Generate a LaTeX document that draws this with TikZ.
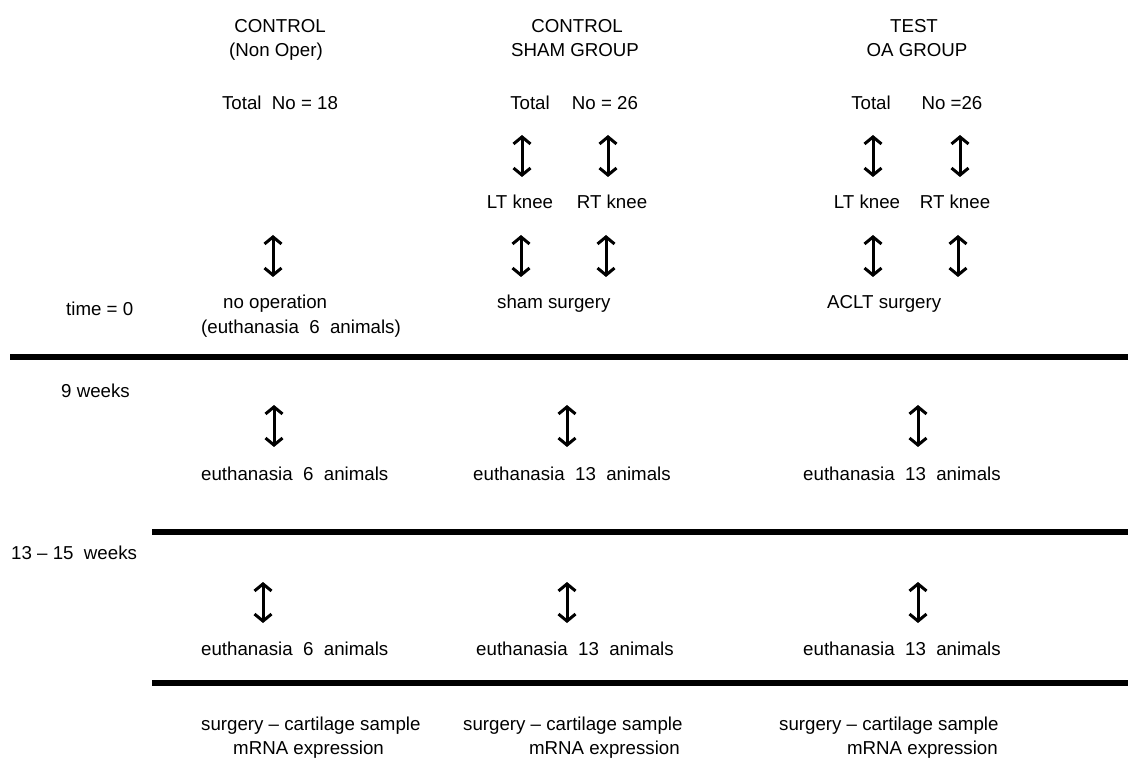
\documentclass[tikz,border=0pt]{standalone}
\usepackage{fontspec}
\setmainfont{Liberation Sans}
\usetikzlibrary{positioning,arrows.meta}
\tikzset{Label/.style={%
    inner sep=0pt,%
    anchor=base,%
    font=\fontsize{18.7}{22}\selectfont,%
}}
\tikzset{LeftLabel/.style={%
    Label,%
    anchor=base west,%
}}
\tikzset{RightLabel/.style={%
    Label,%
    anchor=base east,%
}}
\tikzset{UpDown/.style={%
    {Straight Barb[length=7pt,width=17pt]}-{Straight Barb[length=7pt,width=17pt]},%
    line width=3pt,%
}}
\tikzset{TimeRule/.style={%
    line width=5.5pt,%
}}

\begin{document}
\begin{tikzpicture}[x=1pt,y=-1pt]
    \useasboundingbox (0,0) rectangle (1128,783);

    % time axis labels
    \node[LeftLabel] (t0) at (66,316) {time = 0};
    \node[LeftLabel] (t9) at (61,398) {9 weeks};
    \node[LeftLabel] (t15) at (11,559) {13 – 15\ \ weeks};

    % control, non operated
    \node[Label] (ctlHead) at (280,33) {CONTROL};
    \node[Label] (ctlSub) at (276,57) {(Non Oper)};
    \node[Label] (ctlTotal) at (280,110) {Total\ \ No = 18};
    \node[LeftLabel] (ctlOp) at (223,309) {no operation};
    \node[LeftLabel] (ctlEuth0) at (201,334) {(euthanasia\ \ 6\ \ animals)};
    \node[LeftLabel] (ctlEuth9) at (201,481) {euthanasia\ \ 6\ \ animals};
    \node[LeftLabel] (ctlEuth15) at (201,655) {euthanasia\ \ 6\ \ animals};
    \node[LeftLabel] (ctlSurg) at (201,730) {surgery – cartilage sample};
    \node[LeftLabel] (ctlRna) at (233,754) {mRNA expression};

    % control, sham group
    \node[Label] (shamHead) at (577,33) {CONTROL};
    \node[Label] (shamSub) at (575,57) {SHAM GROUP};
    \node[Label] (shamTotal) at (530,110) {Total};
    \node[Label] (shamNo) at (605,110) {No = 26};
    \node[Label] (shamLT) at (520,209) {LT knee};
    \node[Label] (shamRT) at (612,209) {RT knee};
    \node[LeftLabel] (shamOp) at (497,309) {sham surgery};
    \node[Label] (shamEuth9) at (572,481) {euthanasia\ \ 13\ \ animals};
    \node[Label] (shamEuth15) at (575,655) {euthanasia\ \ 13\ \ animals};
    \node[LeftLabel] (shamSurg) at (463,730) {surgery – cartilage sample};
    \node[RightLabel] (shamRna) at (680,754) {mRNA expression};

    % test, OA group
    \node[Label] (oaHead) at (914,33) {TEST};
    \node[Label] (oaSub) at (917,57) {OA GROUP};
    \node[Label] (oaTotal) at (871,110) {Total};
    \node[Label] (oaNo) at (952,110) {No =26};
    \node[Label] (oaLT) at (867,209) {LT knee};
    \node[Label] (oaRT) at (955,209) {RT knee};
    \node[LeftLabel] (oaOp) at (827,309) {ACLT surgery};
    \node[Label] (oaEuth9) at (902,481) {euthanasia\ \ 13\ \ animals};
    \node[Label] (oaEuth15) at (902,655) {euthanasia\ \ 13\ \ animals};
    \node[LeftLabel] (oaSurg) at (779,730) {surgery – cartilage sample};
    \node[RightLabel] (oaRna) at (998,754) {mRNA expression};

    % arrow ends
    \coordinate (shamA1) at (522,135); \coordinate (shamA2) at (522,177);
    \coordinate (shamB1) at (608,135); \coordinate (shamB2) at (608,177);
    \coordinate (oaA1) at (873,135);   \coordinate (oaA2) at (873,177);
    \coordinate (oaB1) at (960,135);   \coordinate (oaB2) at (960,177);
    \coordinate (ctlC1) at (273,235);  \coordinate (ctlC2) at (273,277);
    \coordinate (shamC1) at (521,235); \coordinate (shamC2) at (521,277);
    \coordinate (shamD1) at (606,235); \coordinate (shamD2) at (606,277);
    \coordinate (oaC1) at (873,235);   \coordinate (oaC2) at (873,277);
    \coordinate (oaD1) at (958,235);   \coordinate (oaD2) at (958,277);
    \coordinate (ctlE1) at (274,405);  \coordinate (ctlE2) at (274,447);
    \coordinate (shamE1) at (567,405); \coordinate (shamE2) at (567,447);
    \coordinate (oaE1) at (918,405);   \coordinate (oaE2) at (918,447);
    \coordinate (ctlF1) at (263,582);  \coordinate (ctlF2) at (263,623);
    \coordinate (shamF1) at (567,582); \coordinate (shamF2) at (567,623);
    \coordinate (oaF1) at (918,582);   \coordinate (oaF2) at (918,623);

    \draw[UpDown] (shamA1) -- (shamA2);
    \draw[UpDown] (shamB1) -- (shamB2);
    \draw[UpDown] (oaA1) -- (oaA2);
    \draw[UpDown] (oaB1) -- (oaB2);
    \draw[UpDown] (ctlC1) -- (ctlC2);
    \draw[UpDown] (shamC1) -- (shamC2);
    \draw[UpDown] (shamD1) -- (shamD2);
    \draw[UpDown] (oaC1) -- (oaC2);
    \draw[UpDown] (oaD1) -- (oaD2);
    \draw[UpDown] (ctlE1) -- (ctlE2);
    \draw[UpDown] (shamE1) -- (shamE2);
    \draw[UpDown] (oaE1) -- (oaE2);
    \draw[UpDown] (ctlF1) -- (ctlF2);
    \draw[UpDown] (shamF1) -- (shamF2);
    \draw[UpDown] (oaF1) -- (oaF2);

    % time rules
    \coordinate (rule0L) at (10,357);  \coordinate (rule0R) at (1128,357);
    \coordinate (rule9L) at (152,532); \coordinate (rule9R) at (1128,532);
    \coordinate (rule15L) at (152,683); \coordinate (rule15R) at (1128,683);
    \draw[TimeRule] (rule0L) -- (rule0R);
    \draw[TimeRule] (rule9L) -- (rule9R);
    \draw[TimeRule] (rule15L) -- (rule15R);
\end{tikzpicture}
\end{document}
